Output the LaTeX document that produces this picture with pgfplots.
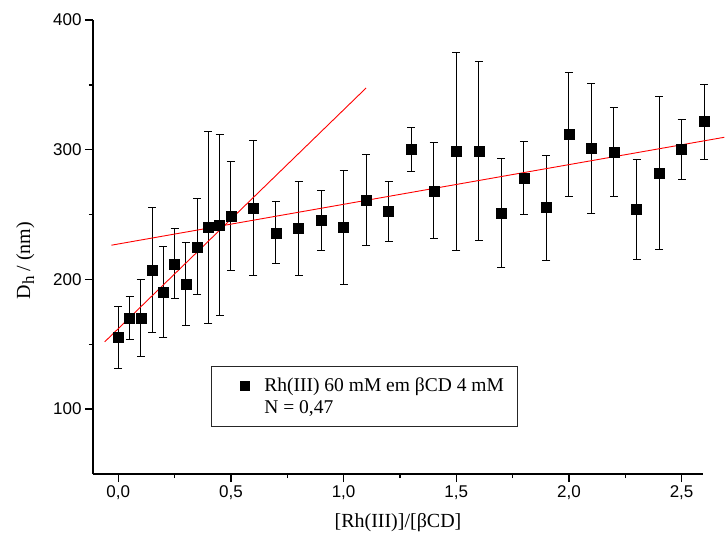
\documentclass[border=0pt]{standalone}
\usepackage{fontspec}
\setmainfont{Liberation Serif}
\newfontfamily\sansf{Liberation Sans}
\usepackage{pgfplots}
\usepackage{pgfplotstable}
\pgfplotsset{compat=1.18}

\pgfplotstableread{
x y e
0.00 155.2 24
0.05 170.4 16.5
0.10 170.4 29.6
0.15 207.2 48
0.20 190.4 35
0.25 212.0 27
0.30 196.4 32
0.35 225.2 37
0.40 240.1 74
0.45 241.9 70
0.50 248.8 42
0.60 254.8 52
0.70 236.0 24
0.80 239.3 36
0.90 245.5 23
1.00 240.1 44
1.10 261.4 35
1.20 252.5 23
1.30 300.3 17
1.40 268.4 37
1.50 298.5 76.5
1.60 298.8 69
1.70 251.2 42
1.80 278.4 28
1.90 255.3 40.5
2.00 311.9 48
2.10 301.1 50
2.20 298.2 34
2.30 254.0 38.6
2.40 282.0 59
2.50 300.3 23
2.60 321.6 29
}\datatable

\begin{document}
\begin{tikzpicture}
\begin{axis}[
  scale only axis, width=610pt, height=454pt,
  xmin=-0.112, xmax=2.595, ymin=50, ymax=400,
  axis x line=bottom, axis y line=left,
  axis line style={-, line width=1.6pt},
  tick align=outside,
  major tick length=8pt, minor tick length=4pt,
  tick style={black, line width=1.4pt},
  xtick={0,0.5,1,1.5,2,2.5},
  xticklabels={{0,0},{0,5},{1,0},{1,5},{2,0},{2,5}},
  minor xtick={0.25,0.75,1.25,1.75,2.25},
  ytick={100,200,300,400},
  minor ytick={150,250,350},
  /pgf/number format/assume math mode=true,
  ticklabel style={font=\sansf\fontsize{17}{20}\selectfont},
  xlabel={[Rh(III)]/[βCD]},
  ylabel={D\raisebox{-0.45ex}{\fontsize{17}{17}\selectfont h} / (nm)},
  label style={font=\fontsize{20}{24}\selectfont},
  xlabel style={at={(axis description cs:0.5,-0.106)}, anchor=center},
  ylabel style={at={(axis description cs:-0.111,0.47)}, anchor=center},
  clip=false,
  legend style={at={(0.1934,0.2379)}, anchor=north west, draw=black!85,
    line width=0.8pt, font=\fontsize{19.5}{22}\selectfont,
    inner xsep=11pt, inner ysep=9.5pt, row sep=3pt},
  legend cell align=left,
]
\addplot[only marks, mark=square*, mark size=5pt, black,
  legend image code/.code={\path[draw=none,fill=none] (0pt,0pt) rectangle (40pt,0.1pt); \draw[black, mark=square*, mark size=4.5pt] plot coordinates {(22.4pt,0pt)};},
  error bars/.cd, y dir=both, y explicit,
  error bar style={line width=1pt, black},
  error mark options={rotate=90, mark size=4pt, line width=1pt, black}]
  table[x=x, y=y, y error=e] {\datatable};
\addlegendentry{Rh(III) 60 mM em βCD 4 mM}
\addlegendimage{empty legend}
\addlegendentry{N = 0,47}
\addplot[red, line width=0.9pt, forget plot] coordinates {(-0.06,151.9) (1.1,347.6)};
\addplot[red, line width=0.9pt, forget plot] coordinates {(-0.03,226.4) (2.69,309.6)};
\end{axis}
\pgfresetboundingbox
\path (-93pt,-69pt) rectangle (632pt,474pt);
\end{tikzpicture}
\end{document}
